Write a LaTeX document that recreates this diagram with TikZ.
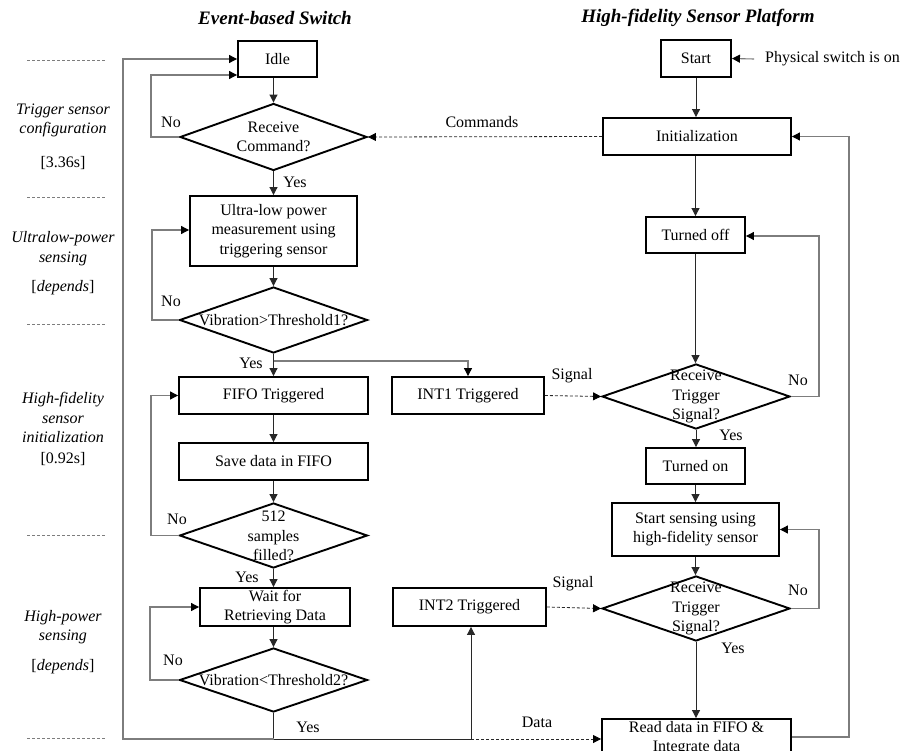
\documentclass[tikz,border=0pt]{standalone}
\usepackage{fontspec}
\setmainfont{Liberation Serif}
\usetikzlibrary{arrows.meta,shapes.geometric}
\definecolor{lgrey}{RGB}{125,125,125}
\definecolor{dline}{RGB}{40,40,40}
\newcommand{\bodyfont}{\fontsize{16pt}{19.5pt}\selectfont}
\newcommand{\titlefont}{\fontsize{19pt}{22pt}\selectfont\bfseries\itshape}
\tikzset{
  every node/.style={font=\bodyfont},
  box/.style={draw=black, line width=1.9pt, inner sep=0pt, align=center},
  dia/.style={draw=black, shape=diamond, line width=1.9pt, inner sep=0pt},
  dtext/.style={align=center, inner sep=0pt},
  arr/.style={draw=dline, line width=1pt, -{Triangle[length=8pt,width=8pt]}},
  garr/.style={draw=lgrey, line width=1.1pt, -{Triangle[length=8pt,width=8pt,color=black]}},
  gline/.style={draw=lgrey, line width=1.1pt},
  dline/.style={draw=dline, line width=1pt},
  darr/.style={draw=dline, line width=0.8pt, dash pattern=on 3pt off 2pt, -{Triangle[length=8pt,width=8pt,color=black]}},
  sep/.style={draw=lgrey, line width=0.8pt, dash pattern=on 3pt off 2pt},
  lab/.style={inner sep=0pt},
  side/.style={inner sep=0pt, align=center, font=\bodyfont\itshape}
}
\begin{document}
\begin{tikzpicture}[x=1pt,y=-1pt]
\useasboundingbox (0,0) rectangle (901,751);
\clip (0,0) rectangle (901,751);

% titles
\node[font=\titlefont] (t1) at (275,18) {Event-based Switch};
\node[font=\titlefont] (t2) at (698,18) {High-fidelity Sensor Platform};

% left column
\node[box, minimum width=79pt, minimum height=36pt] (idle) at (277.5,59) {Idle};
\node[dia, minimum width=187pt, minimum height=67pt] (rc) at (273.5,137) {};
\node[dtext] (rct) at (273.5,137) {Receive\\Command?};
\node[box, minimum width=167pt, minimum height=70pt] (ulp) at (273.5,231) {Ultra-low power\\measurement using\\triggering sensor};
\node[dia, minimum width=188pt, minimum height=66pt] (th1) at (273.5,320) {};
\node[dtext] (th1t) at (273.5,320) {Vibration>Threshold1?};
\node[box, minimum width=189pt, minimum height=37pt] (fifo) at (273.5,395.5) {FIFO Triggered};
\node[box, minimum width=189pt, minimum height=37pt] (save) at (273.5,461.5) {Save data in FIFO};
\node[dia, minimum width=188pt, minimum height=65pt] (s512) at (273.5,535.5) {};
\node[dtext] (s512t) at (273.5,536) {512\\samples\\filled?};
\node[box, minimum width=150pt, minimum height=38pt] (wait) at (275,607) {Wait for\\Retrieving Data};
\node[dia, minimum width=188pt, minimum height=64pt] (th2) at (273.5,680) {};
\node[dtext] (th2t) at (273.5,680) {Vibration<Threshold2?};

% middle column
\node[box, minimum width=152pt, minimum height=37pt] (int1) at (468,395.5) {INT1 Triggered};
\node[box, minimum width=153pt, minimum height=38pt] (int2) at (469.5,607) {INT2 Triggered};

% right column
\node[box, minimum width=70pt, minimum height=37pt] (start) at (696,58.5) {Start};
\node[lab, anchor=west] (phys) at (765,59) {Physical switch is on};
\node[box, minimum width=188pt, minimum height=37pt] (init) at (697,136.5) {Initialization};
\node[box, minimum width=99pt, minimum height=36pt] (off) at (695.5,235) {Turned off};
\node[dia, minimum width=188pt, minimum height=65pt] (rts1) at (696,396.5) {};
\node[dtext] (rts1t) at (696,396.5) {Receive\\Trigger\\Signal?};
\node[box, minimum width=99pt, minimum height=36pt] (on) at (695.5,466) {Turned on};
\node[box, minimum width=167pt, minimum height=53pt] (sense) at (695.5,529.5) {Start sensing using\\high-fidelity sensor};
\node[dia, minimum width=188pt, minimum height=65pt] (rts2) at (696,608.5) {};
\node[dtext] (rts2t) at (696,608.5) {Receive\\Trigger\\Signal?};
\node[box, minimum width=189pt, minimum height=38pt] (read) at (696.5,738) {Read data in FIFO \&\\Integrate data};

% coordinates
\coordinate (physL) at (754,59);
\coordinate (br1) at (273.5,361);
\coordinate (bot) at (273.5,739);
\coordinate (botR) at (471,739);

% left column connectors
\draw[arr] (idle.south -| rc.north) -- (rc.north);
\draw[arr] (rc.south) -- (ulp.north);
\draw[garr] (rc.west) -- (151,137) -- (151,75) -- (idle.west |- 0,75);
\draw[arr] (ulp.south) -- (th1.north);
\draw[garr] (th1.west) -- (152,320) -- (152,230) -- (ulp.west |- 0,230);
\draw[arr] (th1.south) -- (fifo.north);
\draw[garr] (br1) -- (br1 -| int1.north) -- (int1.north);
\draw[arr] (fifo.south) -- (save.north);
\draw[arr] (save.south) -- (s512.north);
\draw[garr] (s512.west) -- (151,535.5) -- (151,395.5) -- (fifo.west);
\draw[arr] (s512.south) -- (s512.south |- wait.north);
\draw[arr] (wait.south -| th2.north) -- (th2.north);
\draw[garr] (th2.west) -- (150,680) -- (150,607) -- (wait.west);
\draw[dline] (th2.south) -- (bot);
\draw[garr] (bot) -- (123,739) -- (123,59) -- (idle.west);
\draw[dline] (bot) -- (botR);
\draw[arr] (botR) -- (int2.south -| botR);
\draw[darr] (botR) -- (read.west |- botR);

% right column connectors
\draw[garr] (physL) -- (start.east);
\draw[arr] (start.south) -- (start.south |- init.north);
\draw[darr] (init.west) -- (rc.east);
\draw[arr] (init.south -| off.north) -- (off.north);
\draw[arr] (off.south) -- (off.south |- rts1.north);
\draw[garr] (rts1.east) -- (819,396.5) -- (819,236) -- (off.east |- 0,236);
\draw[arr] (rts1.south) -- (rts1.south |- on.north);
\draw[arr] (on.south) -- (on.south |- sense.north);
\draw[arr] (sense.south) -- (sense.south |- rts2.north);
\draw[garr] (rts2.east) -- (819,608.5) -- (819,529.5) -- (sense.east);
\draw[arr] (rts2.south) -- (read.north -| rts2.south);
\draw[garr] (read.east |- 0,737) -- (849,737) -- (849,136.5) -- (init.east);
\draw[darr] (int1.east) -- (rts1.west);
\draw[darr] (int2.east) -- (rts2.west);

% connector labels
\node[lab] (lno1) at (171,122) {No};
\node[lab] (lyes1) at (295,182) {Yes};
\node[lab] (lno2) at (171,301) {No};
\node[lab] (lyes2) at (251,363) {Yes};
\node[lab] (lno3) at (177,519) {No};
\node[lab] (lyes3) at (247,577) {Yes};
\node[lab] (lno4) at (173,660) {No};
\node[lab] (lyes4) at (308,727) {Yes};
\node[lab] (lcmd) at (482,122) {Commands};
\node[lab] (lsig1) at (572,376) {Signal};
\node[lab] (lsig2) at (573,584) {Signal};
\node[lab] (ldata) at (537,722) {Data};
\node[lab] (lno5) at (798,380) {No};
\node[lab] (lyes5) at (731,435) {Yes};
\node[lab] (lno6) at (798,590) {No};
\node[lab] (lyes6) at (733,648) {Yes};

% side phase labels
\draw[sep] (27,60) -- (105,60);
\draw[sep] (27,197) -- (105,197);
\draw[sep] (27,324) -- (105,324);
\draw[sep] (27,535) -- (105,535);
\draw[sep] (27,738) -- (105,738);
\node[side] (p1) at (63,120.5) {Trigger sensor\\configuration};
\node[lab] (p1t) at (63,163) {[3.36s]};
\node[side] (p2) at (63,248.5) {Ultralow-power\\sensing};
\node[lab] (p2t) at (63,288) {[\textit{depends}]};
\node[side] (p3) at (63,417.5) {High-fidelity\\sensor\\initialization};
\node[lab] (p3t) at (63,459) {[0.92s]};
\node[side] (p4) at (63,627) {High-power\\sensing};
\node[lab] (p4t) at (63,667) {[\textit{depends}]};
\end{tikzpicture}
\end{document}
